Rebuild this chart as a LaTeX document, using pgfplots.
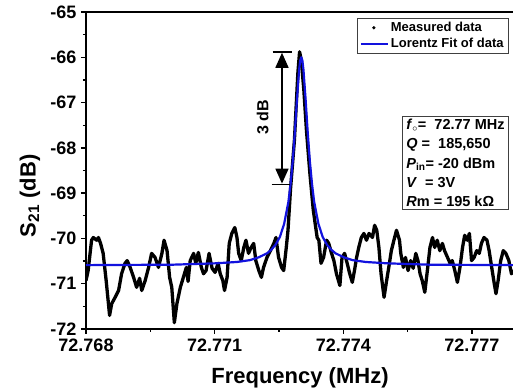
\documentclass[border=0pt]{standalone}
\usepackage{fontspec}
\setmainfont{Liberation Sans}
\usepackage{pgfplots}
\pgfplotsset{compat=1.18}
\usepackage{pgfplotstable}
\usetikzlibrary{arrows.meta}
\definecolor{fitblue}{RGB}{18,18,222}

% x = offset from 72.768 MHz in kHz, y = S21 in dB
\pgfplotstableread{
x y
0.00 -70.93
0.05 -70.71
0.13 -70.04
0.17 -69.98
0.25 -70.04
0.29 -69.98
0.34 -70.11
0.40 -70.33
0.47 -70.93
0.55 -71.70
0.60 -71.44
0.68 -71.30
0.76 -71.15
0.83 -70.78
0.91 -70.55
0.96 -70.49
1.03 -70.64
1.11 -70.86
1.18 -71.08
1.25 -70.88
1.30 -71.15
1.38 -70.93
1.46 -70.64
1.53 -70.33
1.61 -70.42
1.69 -70.64
1.77 -70.33
1.82 -70.04
1.89 -70.27
1.95 -70.86
2.00 -71.08
2.06 -71.86
2.12 -71.44
2.20 -71.08
2.27 -70.86
2.34 -70.64
2.38 -70.95
2.43 -70.49
2.51 -70.33
2.56 -70.55
2.62 -70.31
2.69 -70.64
2.74 -70.78
2.80 -70.71
2.87 -70.33
2.94 -70.66
3.01 -70.75
3.08 -70.55
3.13 -70.78
3.19 -70.93
3.23 -71.15
3.29 -70.86
3.34 -70.11
3.40 -69.89
3.47 -69.76
3.52 -69.98
3.56 -70.33
3.62 -70.49
3.68 -70.20
3.73 -70.04
3.79 -70.33
3.85 -70.20
3.91 -70.11
3.96 -70.49
4.03 -70.71
4.09 -70.86
4.14 -70.64
4.22 -70.42
4.30 -70.27
4.38 -70.11
4.43 -69.98
4.49 -70.42
4.56 -70.64
4.61 -70.71
4.67 -70.20
4.71 -69.82
4.77 -68.90
4.86 -67.83
4.94 -66.35
4.98 -65.88
5.02 -66.06
5.08 -66.73
5.14 -67.61
5.22 -68.56
5.30 -69.38
5.39 -69.98
5.43 -70.04
5.48 -70.55
5.54 -70.42
5.61 -70.04
5.66 -70.11
5.72 -70.31
5.78 -70.49
5.84 -70.78
5.92 -71.04
5.97 -70.42
6.03 -70.33
6.09 -70.55
6.15 -70.78
6.21 -70.97
6.26 -70.71
6.31 -70.42
6.36 -70.20
6.42 -69.98
6.48 -69.89
6.54 -70.04
6.60 -69.89
6.68 -69.98
6.73 -69.71
6.78 -69.82
6.83 -70.20
6.88 -70.78
6.95 -71.30
7.01 -70.93
7.06 -70.64
7.12 -70.27
7.18 -70.04
7.24 -69.82
7.31 -70.04
7.34 -70.33
7.40 -70.64
7.45 -70.42
7.51 -70.71
7.57 -70.49
7.63 -70.66
7.69 -70.33
7.74 -70.49
7.79 -70.78
7.84 -70.93
7.90 -71.19
7.96 -70.71
8.02 -70.20
8.08 -69.98
8.13 -70.20
8.19 -70.04
8.25 -70.27
8.31 -70.11
8.36 -70.27
8.43 -70.42
8.49 -70.55
8.54 -70.49
8.60 -70.71
8.66 -70.97
8.72 -70.64
8.78 -70.20
8.83 -69.93
8.89 -70.04
8.94 -69.89
8.99 -70.49
9.05 -70.42
9.11 -70.27
9.17 -70.33
9.22 -70.11
9.28 -69.98
9.35 -70.04
9.40 -70.27
9.46 -70.64
9.52 -71.00
9.56 -71.22
9.61 -70.93
9.67 -70.49
9.73 -70.27
9.79 -70.33
9.86 -70.49
9.92 -70.78
9.98 -70.71
}\measured

\pgfplotstableread{
x y
0.00 -70.59
2.02 -70.58
3.02 -70.55
3.52 -70.52
3.82 -70.48
4.02 -70.42
4.22 -70.33
4.32 -70.25
4.42 -70.14
4.52 -69.97
4.62 -69.68
4.72 -69.19
4.77 -68.80
4.82 -68.30
4.87 -67.66
4.92 -66.92
4.97 -66.27
4.995 -66.07
5.02 -66.00
5.045 -66.07
5.07 -66.27
5.12 -66.92
5.17 -67.66
5.22 -68.30
5.27 -68.80
5.32 -69.19
5.42 -69.68
5.52 -69.97
5.62 -70.14
5.72 -70.25
5.82 -70.33
6.02 -70.42
6.22 -70.48
6.52 -70.52
7.02 -70.55
8.02 -70.58
9.98 -70.59
}\lorentz

\begin{document}
\begin{tikzpicture}
\begin{axis}[
  name=ax,
  scale only axis,
  width=428pt, height=317pt,
  xmin=0, xmax=9.98,
  ymin=-72, ymax=-65,
  xtick={0,3,6,9},
  xticklabels={72.768,72.771,72.774,72.777},
  minor xtick={1.5,4.5,7.5},
  ytick={-72,-71,-70,-69,-68,-67,-66,-65},
  yticklabels={-72,-71,-70,-69,-68,-67,-66,-65},
  minor ytick={-71.5,-70.5,-69.5,-68.5,-67.5,-66.5,-65.5},
  xtick pos=bottom, ytick pos=left,
  tick align=outside,
  major tick length=5pt, minor tick length=3pt,
  every tick/.style={black, line width=1.3pt},
  axis line style={line width=1.5pt},
  tick label style={font=\fontsize{18}{18}\selectfont\bfseries},
  xticklabel style={yshift=-1pt},
  yticklabel style={xshift=-1pt},
  xlabel={Frequency (MHz)},
  ylabel={S\textsubscript{21} (dB)},
  label style={font=\fontsize{22}{22}\selectfont\bfseries},
  xlabel style={at={(axis description cs:0.5,-0.155)}, anchor=center},
  ylabel style={at={(axis description cs:-0.131,0.42)}, anchor=center},
  legend style={at={(axis description cs:0.988,0.981)}, anchor=north east,
    draw=black!75, line width=0.6pt, fill=white,
    font=\fontsize{13}{15}\selectfont\bfseries,
    inner xsep=3pt, inner ysep=2pt, row sep=1pt},
  legend cell align=left,
]
\addlegendimage{legend image code/.code={\fill[black] (13pt,0pt) circle (1.3pt);}}
\addlegendentry{Measured data}
\addplot[black, line width=3.3pt, line join=round, forget plot] table[x=x,y=y] {\measured};
\addplot[fitblue, line width=2.2pt, line join=round,
  legend image code/.code={\draw[fitblue, line width=2pt] (0pt,0pt) -- (27pt,0pt);}]
  table[x=x,y=y] {\lorentz};
\addlegendentry{Lorentz Fit of data}

% 3 dB annotation
\draw[line width=1.4pt] (axis cs:4.35,-65.88) -- (axis cs:4.80,-65.88);
\draw[line width=1.4pt] (axis cs:4.33,-68.81) -- (axis cs:4.76,-68.81);
\draw[line width=1.5pt, {Triangle[length=15pt,width=13pt]}-{Triangle[length=15pt,width=13pt]}]
  (axis cs:4.57,-65.90) -- (axis cs:4.57,-68.79);
\node[rotate=90, font=\fontsize{16}{16}\selectfont\bfseries] at (axis cs:4.12,-67.32) {3 dB};

% parameter box
\node[draw=black!75, line width=0.6pt, fill=white, anchor=north east,
  align=left, inner xsep=4pt, inner ysep=3pt,
  font=\fontsize{14.5}{19.2}\selectfont\bfseries]
  at (axis description cs:0.988,0.672)
  {\textit{f}$_{\circ}$=\ \ 72.77 MHz\\
   \textit{Q} =\ \ 185,650\\
   \textit{P}\textsubscript{in}= -20 dBm\\
   \textit{V}\ \ = 3V\\
   \textit{R}m = 195 kΩ};
\end{axis}
\path (ax.south west) ++(-86pt,-63pt) coordinate (BL);
\path (ax.north east) ++(-1pt,12pt) coordinate (TR);
\pgfresetboundingbox
\useasboundingbox (BL) rectangle (TR);
\end{tikzpicture}
\end{document}
